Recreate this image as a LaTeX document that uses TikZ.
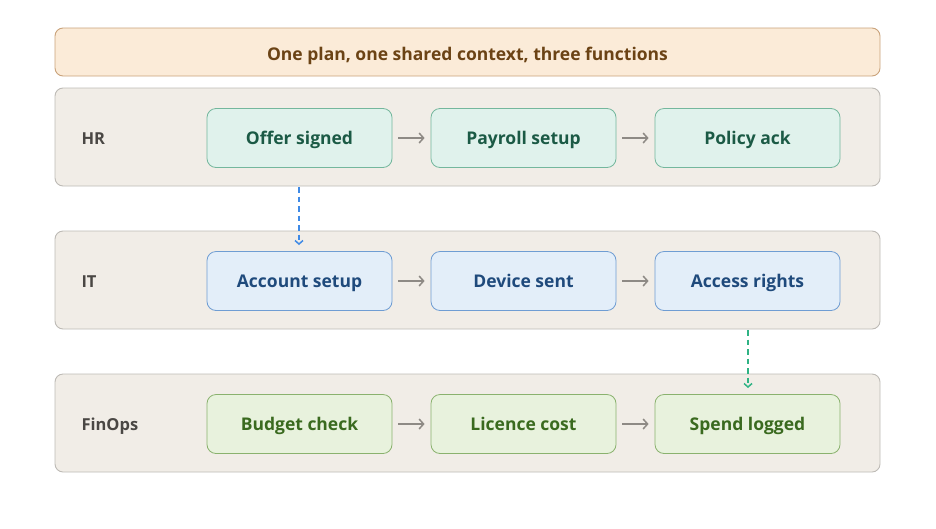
\documentclass[tikz,border=0pt]{standalone}
\usepackage{fontspec}
\setmainfont{Open Sans}
\usetikzlibrary{arrows.meta}
\definecolor{titlefill}{HTML}{FBEBD8}
\definecolor{titledraw}{HTML}{C9A27A}
\definecolor{titletext}{HTML}{6B4315}
\definecolor{lanefill}{HTML}{F1EDE7}
\definecolor{lanedraw}{HTML}{BDBAB5}
\definecolor{lanetext}{HTML}{4A4744}
\definecolor{hrfill}{HTML}{E0F2EC}
\definecolor{hrdraw}{HTML}{74B79D}
\definecolor{hrtext}{HTML}{1B5A45}
\definecolor{itfill}{HTML}{E3EEF9}
\definecolor{itdraw}{HTML}{6F9DD3}
\definecolor{ittext}{HTML}{1F4A7C}
\definecolor{fofill}{HTML}{E8F2DD}
\definecolor{fodraw}{HTML}{8AB26E}
\definecolor{fotext}{HTML}{3A6A1F}
\definecolor{flowgray}{HTML}{8E8A85}
\definecolor{linkblue}{HTML}{3F8AE6}
\definecolor{linkgreen}{HTML}{2FB384}
\tikzset{
  lane/.style={draw=lanedraw, fill=lanefill, rounded corners=8pt, line width=0.9pt},
  lanelabel/.style={anchor=west, text=lanetext, text height=14pt, text depth=0.8pt, font=\fontsize{16.5}{19}\selectfont\bfseries},
  stepbox/.style={rounded corners=9pt, minimum width=185pt, minimum height=59pt, line width=0.8pt, text height=14pt, text depth=1.5pt, font=\fontsize{17.5}{20}\selectfont\bfseries},
  hrbox/.style={stepbox, draw=hrdraw, fill=hrfill, text=hrtext},
  itbox/.style={stepbox, draw=itdraw, fill=itfill, text=ittext},
  fobox/.style={stepbox, draw=fodraw, fill=fofill, text=fotext},
  flow/.style={draw=flowgray, line width=1.5pt, -{Straight Barb[length=4.5pt,width=10pt]}, shorten <=6pt, shorten >=6pt},
  link/.style={dash pattern=on 5.5pt off 4pt, line width=1.5pt, -{Straight Barb[length=3.5pt,width=8pt]}},
}
\begin{document}
\begin{tikzpicture}[x=1pt,y=-1pt]
\useasboundingbox (0,0) rectangle (936,528);
\node[draw=titledraw, fill=titlefill, rounded corners=8pt, line width=0.9pt, minimum width=825pt, minimum height=48pt, text height=16.5pt, text depth=0pt, text=titletext, font=\fontsize{17.5}{20}\selectfont\bfseries] (title) at (467.5,52) {One plan, one shared context, three functions};

\node[lane, minimum width=825pt, minimum height=98pt] (hrlane) at (467.5,137) {};
\node[lane, minimum width=825pt, minimum height=98pt] (itlane) at (467.5,280) {};
\node[lane, minimum width=825pt, minimum height=98pt] (folane) at (467.5,423) {};

\node[lanelabel] (hrl) at (78,138) {HR};
\node[lanelabel] (itl) at (78,281) {IT};
\node[lanelabel] (fol) at (78,424) {FinOps};

\node[hrbox] (a1) at (299.5,138) {Offer signed};
\node[hrbox] (a2) at (523.5,138) {Payroll setup};
\node[hrbox] (a3) at (747.5,138) {Policy ack};

\node[itbox] (b1) at (299.5,281) {Account setup};
\node[itbox] (b2) at (523.5,281) {Device sent};
\node[itbox] (b3) at (747.5,281) {Access rights};

\node[fobox] (c1) at (299.5,424) {Budget check};
\node[fobox] (c2) at (523.5,424) {Licence cost};
\node[fobox] (c3) at (747.5,424) {Spend logged};

\draw[flow] (a1) -- (a2);
\draw[flow] (a2) -- (a3);
\draw[flow] (b1) -- (b2);
\draw[flow] (b2) -- (b3);
\draw[flow] (c1) -- (c2);
\draw[flow] (c2) -- (c3);

\coordinate (l1s) at (299,187);
\coordinate (l1e) at (299,245);
\coordinate (l2s) at (748,330);
\coordinate (l2e) at (748,388);
\draw[link, color=linkblue] (l1s) -- (l1e);
\draw[link, color=linkgreen] (l2s) -- (l2e);
\end{tikzpicture}
\end{document}
